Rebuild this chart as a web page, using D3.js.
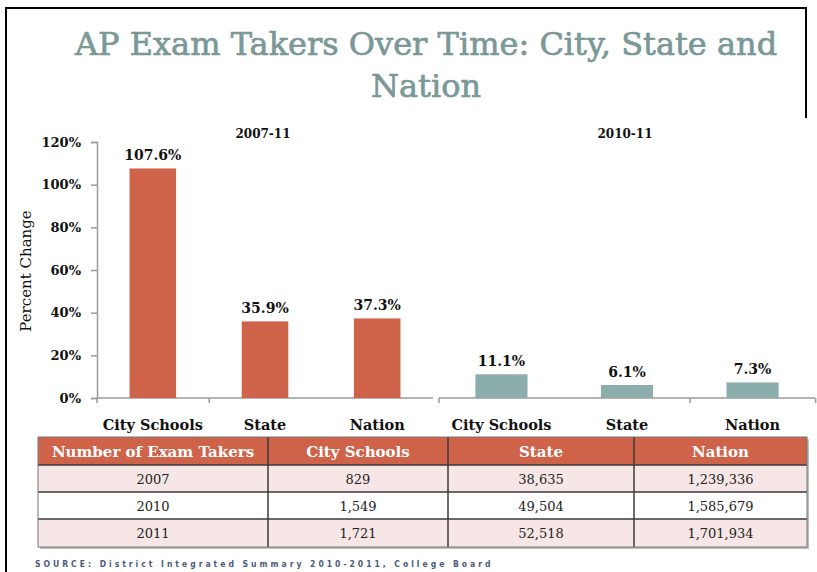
<!DOCTYPE html>
<html>
<head>
<meta charset="utf-8">
<script src="https://cdn.jsdelivr.net/npm/d3@7/dist/d3.min.js"></script>
<style>
  html, body { margin: 0; padding: 0; background: #ffffff; }
  svg { display: block; }
</style>
</head>
<body>
<svg id="chart" width="817" height="572"></svg>
<script>
// ---------------- DATA ----------------
const titleLines = ["AP Exam Takers Over Time: City, State and", "Nation"];
const categories = ["City Schools", "State", "Nation"];
const change0711 = [107.6, 35.9, 37.3];
const change1011 = [11.1, 6.1, 7.3];
const yTicks = [0, 20, 40, 60, 80, 100, 120];
const panelTitles = ["2007-11", "2010-11"];
const yAxisTitle = "Percent Change";
const tableHeader = ["Number of Exam Takers", "City Schools", "State", "Nation"];
const tableYears = ["2007", "2010", "2011"];
const takersCity = [829, 1549, 1721];
const takersState = [38635, 49504, 52518];
const takersNation = [1239336, 1585679, 1701934];
const sourceText = "SOURCE: District Integrated Summary 2010-2011, College Board";

// ---------------- STYLE ----------------
const serif = "'DejaVu Serif', 'Liberation Serif', serif";
const red = "#cf634a";
const teal = "#8badab";
const titleColor = "#7a9897";

const svg = d3.select("#chart");

// frame
svg.append("path")
  .attr("d", "M6,118 L6,8 L806,8 L806,118")
  .attr("fill", "none").attr("stroke", "#000").attr("stroke-width", 2);
svg.append("line").attr("x1", 6).attr("x2", 6).attr("y1", 8).attr("y2", 572)
  .attr("stroke", "#000").attr("stroke-width", 2);

// title
svg.append("g").selectAll("text").data(titleLines).join("text")
  .attr("x", 426).attr("y", (d, i) => 55 + i * 42)
  .attr("text-anchor", "middle")
  .attr("font-family", serif).attr("font-size", 32)
  .attr("fill", titleColor)
  .attr("stroke", titleColor).attr("stroke-width", 0.7)
  .text(d => d);

// y scale shared
const y = d3.scaleLinear().domain([0, 120]).range([398, 142]);

// y axis
const yAxis = d3.axisLeft(y).tickValues(yTicks).tickSize(6).tickPadding(10)
  .tickFormat(d => d + "%");
const yg = svg.append("g").attr("transform", "translate(97,0)").call(yAxis);
yg.select(".domain").attr("stroke", "#9a9a9a").attr("stroke-width", 1.5);
yg.selectAll(".tick line").attr("stroke", "#9a9a9a").attr("stroke-width", 1.5);
yg.selectAll(".tick text").attr("font-family", serif).attr("font-size", 13)
  .attr("font-weight", "bold").attr("fill", "#111");

svg.append("text")
  .attr("transform", "translate(31,271) rotate(-90)")
  .attr("text-anchor", "middle")
  .attr("font-family", serif).attr("font-size", 15).attr("fill", "#111")
  .text(yAxisTitle);

// panels
const panels = [
  { values: change0711, range: [97, 433], color: red, title: panelTitles[0], tickIdx: [0, 1] },
  { values: change1011, range: [439, 815], color: teal, title: panelTitles[1], tickIdx: [0, 2, 3] }
];

panels.forEach(p => {
  const x = d3.scaleBand().domain(categories).range(p.range)
    .paddingInner(0.585).paddingOuter(0.29);
  const g = svg.append("g");
  const step = x.step();
  const x0 = p.range[0];
  // baseline
  g.append("line").attr("x1", p.range[0]).attr("x2", p.range[1])
    .attr("y1", y(0)).attr("y2", y(0))
    .attr("stroke", "#9a9a9a").attr("stroke-width", 1.5);
  // ticks between categories
  g.selectAll("line.tk").data(p.tickIdx).join("line").attr("class", "tk")
    .attr("x1", i => x0 + i * step).attr("x2", i => x0 + i * step)
    .attr("y1", y(0)).attr("y2", y(0) + 5)
    .attr("stroke", "#9a9a9a").attr("stroke-width", 1.5);
  // bars
  g.selectAll("rect").data(p.values).join("rect")
    .attr("x", (d, i) => x(categories[i]))
    .attr("width", x.bandwidth())
    .attr("y", d => y(d))
    .attr("height", d => y(0) - y(d))
    .attr("fill", p.color);
  // value labels
  g.selectAll("text.val").data(p.values).join("text").attr("class", "val")
    .attr("x", (d, i) => x(categories[i]) + x.bandwidth() / 2)
    .attr("y", d => y(d) - 8)
    .attr("text-anchor", "middle")
    .attr("font-family", serif).attr("font-size", 14).attr("font-weight", "bold")
    .attr("fill", "#111")
    .text(d => d.toFixed(1) + "%");
  // category labels
  g.selectAll("text.cat").data(categories).join("text").attr("class", "cat")
    .attr("x", d => x(d) + x.bandwidth() / 2)
    .attr("y", 430)
    .attr("text-anchor", "middle")
    .attr("font-family", serif).attr("font-size", 14.5).attr("font-weight", "bold")
    .attr("fill", "#111")
    .text(d => d);
  // panel title
  g.append("text")
    .attr("x", x(categories[1]) + x.bandwidth() / 2 - 2)
    .attr("y", 138)
    .attr("text-anchor", "middle")
    .attr("font-family", serif).attr("font-size", 12).attr("font-weight", "bold")
    .attr("fill", "#111")
    .text(p.title);
});

// ---------------- TABLE ----------------
const colEdges = [38, 268, 448, 634, 807];
const rowEdges = [437, 465, 492, 519, 547];
const fmt = d3.format(",");
const rows = tableYears.map((yr, i) => [yr, fmt(takersCity[i]), fmt(takersState[i]), fmt(takersNation[i])]);

const tg = svg.append("g");
// shadow
tg.append("rect").attr("x", colEdges[0] + 2).attr("y", rowEdges[0] + 2)
  .attr("width", colEdges[4] - colEdges[0]).attr("height", rowEdges[4] - rowEdges[0])
  .attr("fill", "#bdbdbd");
// header
tg.append("rect").attr("x", colEdges[0]).attr("y", rowEdges[0])
  .attr("width", colEdges[4] - colEdges[0]).attr("height", rowEdges[1] - rowEdges[0])
  .attr("fill", red);
// body rows
tg.selectAll("rect.row").data(rows).join("rect").attr("class", "row")
  .attr("x", colEdges[0]).attr("y", (d, i) => rowEdges[i + 1])
  .attr("width", colEdges[4] - colEdges[0])
  .attr("height", (d, i) => rowEdges[i + 2] - rowEdges[i + 1])
  .attr("fill", (d, i) => i % 2 === 0 ? "#f6e6e5" : "#ffffff");
// header text
tg.selectAll("text.hd").data(tableHeader).join("text").attr("class", "hd")
  .attr("x", (d, i) => (colEdges[i] + colEdges[i + 1]) / 2)
  .attr("y", 457)
  .attr("text-anchor", "middle")
  .attr("font-family", serif).attr("font-size", 15).attr("font-weight", "bold")
  .attr("fill", "#ffffff")
  .text(d => d);
// body text
rows.forEach((r, ri) => {
  tg.selectAll(null).data(r).join("text")
    .attr("x", (d, i) => (colEdges[i] + colEdges[i + 1]) / 2)
    .attr("y", (rowEdges[ri + 1] + rowEdges[ri + 2]) / 2 + 5)
    .attr("text-anchor", "middle")
    .attr("font-family", serif).attr("font-size", 13)
    .attr("fill", "#222")
    .text(d => d);
});
// grid lines
tg.selectAll("line.h").data(rowEdges.slice(1, 4)).join("line").attr("class", "h")
  .attr("x1", colEdges[0]).attr("x2", colEdges[4])
  .attr("y1", d => d).attr("y2", d => d)
  .attr("stroke", "#3a3a3a").attr("stroke-width", 1.5);
tg.selectAll("line.v").data(colEdges.slice(1, 4)).join("line").attr("class", "v")
  .attr("x1", d => d).attr("x2", d => d)
  .attr("y1", rowEdges[0]).attr("y2", rowEdges[4])
  .attr("stroke", "#3a3a3a").attr("stroke-width", 1.5);
tg.append("rect").attr("x", colEdges[0]).attr("y", rowEdges[0])
  .attr("width", colEdges[4] - colEdges[0]).attr("height", rowEdges[4] - rowEdges[0])
  .attr("fill", "none").attr("stroke", "#777").attr("stroke-width", 1);

// source
svg.append("text")
  .attr("x", 35).attr("y", 567)
  .attr("font-family", "'DejaVu Sans Condensed', 'DejaVu Sans', sans-serif")
  .attr("font-size", 8.5).attr("font-weight", "bold")
  .attr("letter-spacing", 3)
  .attr("fill", "#4b5a7b")
  .text(sourceText);
</script>
</body>
</html>
